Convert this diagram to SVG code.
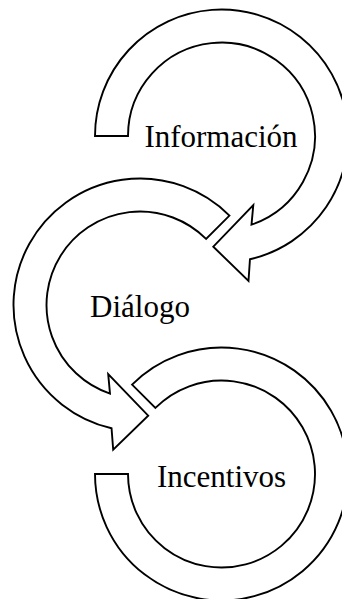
<svg xmlns="http://www.w3.org/2000/svg" width="342" height="599" viewBox="0 0 342 599">
<style>
.arr{fill:#fff;stroke:#000;stroke-width:1.9;stroke-linejoin:miter}
.lbl{font-family:"Liberation Serif","Times New Roman",serif;font-size:31px;fill:#000;text-anchor:middle}
</style>
<rect width="342" height="599" fill="#fff"/>
<g id="informacion">
<path class="arr" d="M95,136 A126.5,126.5 0 1 1 249.96,259.3 L248.5,281 L213.3,246.7 L253.3,205 L251.5,224.6 A93.5,93.5 0 1 0 128,136 Z"/>
<text class="lbl" x="221" y="146.5">Información</text>
</g>
<g id="dialogo">
<path class="arr" d="M229.45,215.55 A126.5,126.5 0 1 0 111.54,428.26 L113.2,449.7 L148.2,415.7 L108.2,374 L110,393.6 A93.5,93.5 0 1 1 206.1,238.9 Z"/>
<text class="lbl" x="140" y="316.5">Diálogo</text>
</g>
<g id="incentivos">
<path class="arr" d="M132.05,384.55 A126.5,126.5 0 1 1 95,474 L128,474 A93.5,93.5 0 1 0 155.4,407.9 Z"/>
<text class="lbl" x="221.5" y="486.5">Incentivos</text>
</g>
<g id="connectors"></g>
</svg>
